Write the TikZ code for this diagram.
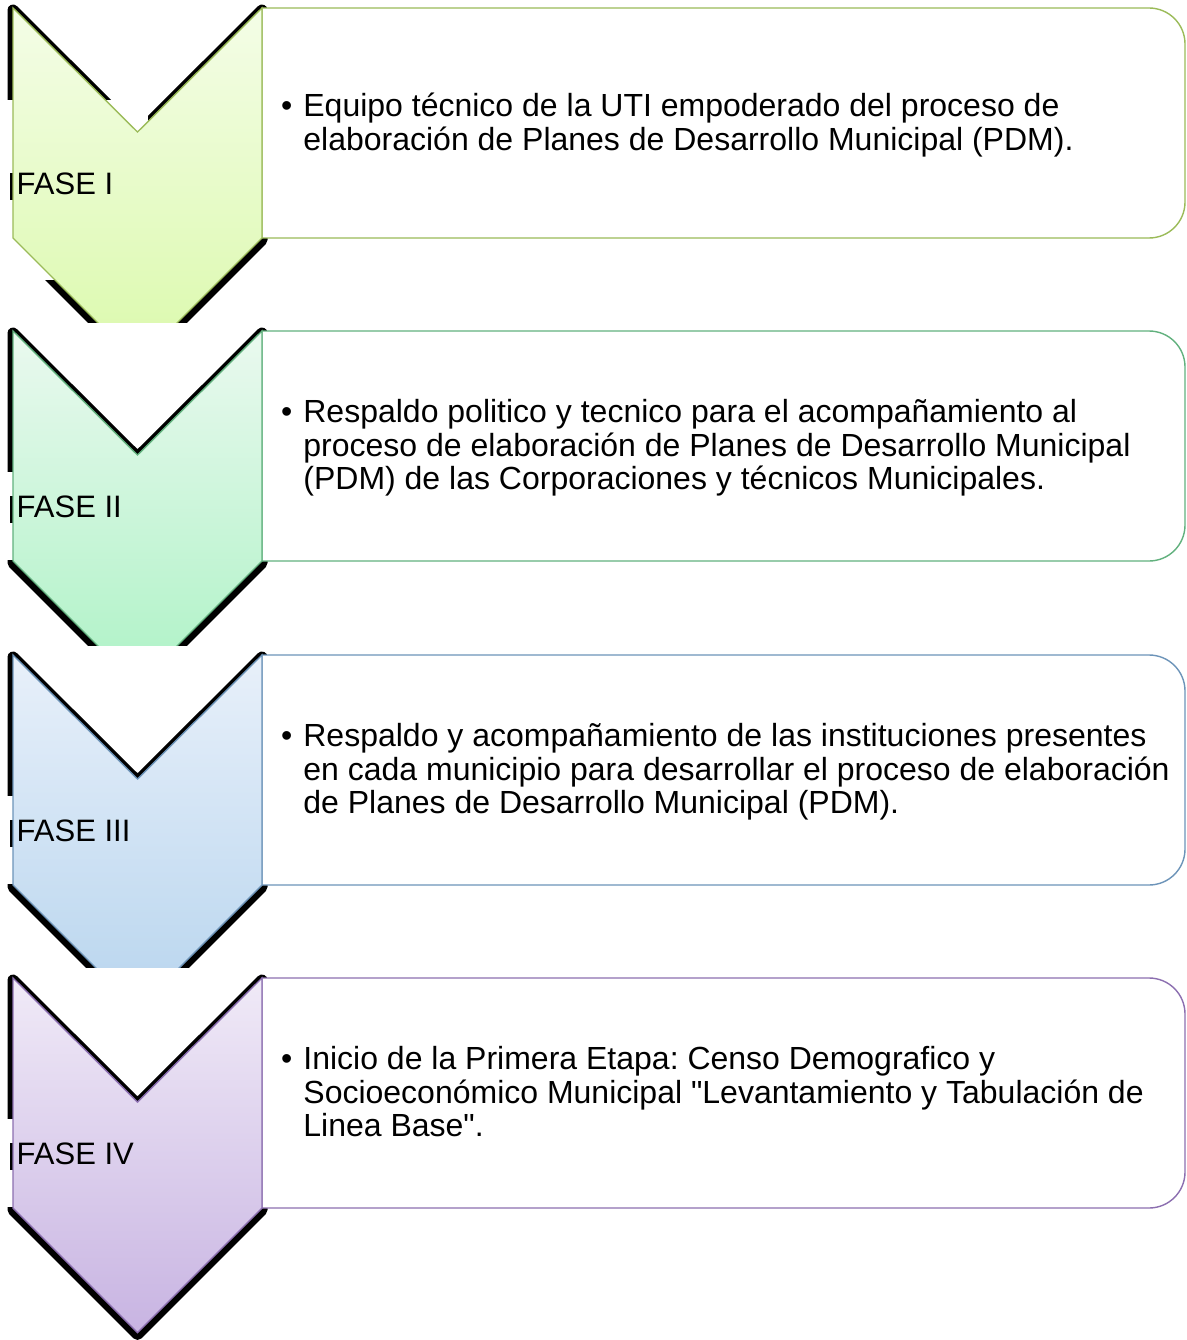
\documentclass[tikz,border=0pt]{standalone}
\usepackage{fontspec}
\setmainfont{Liberation Sans}
\newfontfamily\plainfont{Liberation Sans}
\definecolor{oneS}{HTML}{9BBB59}\definecolor{oneT}{HTML}{F4FDE7}\definecolor{oneB}{HTML}{DBF9AC}
\definecolor{twoS}{HTML}{62B17E}\definecolor{twoT}{HTML}{EAF9EF}\definecolor{twoB}{HTML}{AEF2C6}
\definecolor{thrS}{HTML}{6D94B9}\definecolor{thrT}{HTML}{E8F0FA}\definecolor{thrB}{HTML}{B8D5EE}
\definecolor{fouS}{HTML}{8C6FB0}\definecolor{fouT}{HTML}{F0EAF7}\definecolor{fouB}{HTML}{C8B4E2}
\tikzset{
  txt/.style={anchor=west, inner sep=0pt, font=\plainfont\frenchspacing\fontsize{32bp}{33.5bp}\selectfont},
  lab/.style={anchor=west, inner sep=0pt, font=\plainfont\fontsize{31bp}{33bp}\selectfont},
  edge/.style={line width=1.4bp},
}
\newcommand\chevpath{(13,0) -- (137.5,124) -- (262,0) -- (262,230) -- (137.5,354.5) -- (13,230) -- cycle}
\newcommand\boxpath{(262,0) -- (1149,0) arc[start angle=-90, end angle=0, radius=36] -- (1185,194) arc[start angle=0, end angle=90, radius=36] -- (262,230) -- cycle}
% #1 top, #2 colour prefix, #3 label, #4 name, #5 cover start, #6 cover end, #7 clip bottom, #8 text
\newcommand\phasegroup[8]{%
\begin{scope}[shift={(0,#1)}]
  \begin{scope}
    \clip (-5,-10) rectangle (1200,#7);
    \draw[black, line width=11bp, line join=round, fill=black, shift={(0,2)}] \chevpath;
    \fill[white] (0,#5) rectangle (148,#6);
    \fill[black] (9.5,165) rectangle (13,192);
    \draw[edge, draw=#2S, fill=white] \boxpath;
    \shade[top color=#2T, bottom color=#2B] \chevpath;
    \draw[edge, draw=#2S, line join=miter] \chevpath;
  \end{scope}
  \node[lab] (f#4) at (16.5,176) {#3};
  \node[txt] (t#4) at (281,118.5) {\begin{tabular}{@{}l@{\hspace{11bp}}l@{}}#8\end{tabular}};
\end{scope}}
\begin{document}
\begin{tikzpicture}[x=1bp,y=-1bp]
\useasboundingbox (0,0) rectangle (1186,1340);
\fill[white] (0,0) rectangle (1186,1340);
\phasegroup{8}{one}{FASE I}{1}{92}{272}{314}{\textbullet & Equipo técnico de la UTI empoderado del proceso de\\ & elaboración de Planes de Desarrollo Municipal (PDM).}
\phasegroup{331}{two}{FASE II}{2}{141}{229}{314}{\textbullet & Respaldo politico y tecnico para el acompañamiento al\\ & proceso de elaboración de Planes de Desarrollo Municipal\\ & (PDM) de las Corporaciones y técnicos Municipales.}
\phasegroup{655}{thr}{FASE III}{3}{141}{229}{312}{\textbullet & Respaldo y acompañamiento de las instituciones presentes\\ & en cada municipio para desarrollar el proceso de elaboración\\ & de Planes de Desarrollo Municipal (PDM).}
\phasegroup{978}{fou}{FASE IV}{4}{141}{229}{400}{\textbullet & Inicio de la Primera Etapa: Censo Demografico y\\ & Socioeconómico Municipal "Levantamiento y Tabulación de\\ & Linea Base".}
\end{tikzpicture}
\end{document}
